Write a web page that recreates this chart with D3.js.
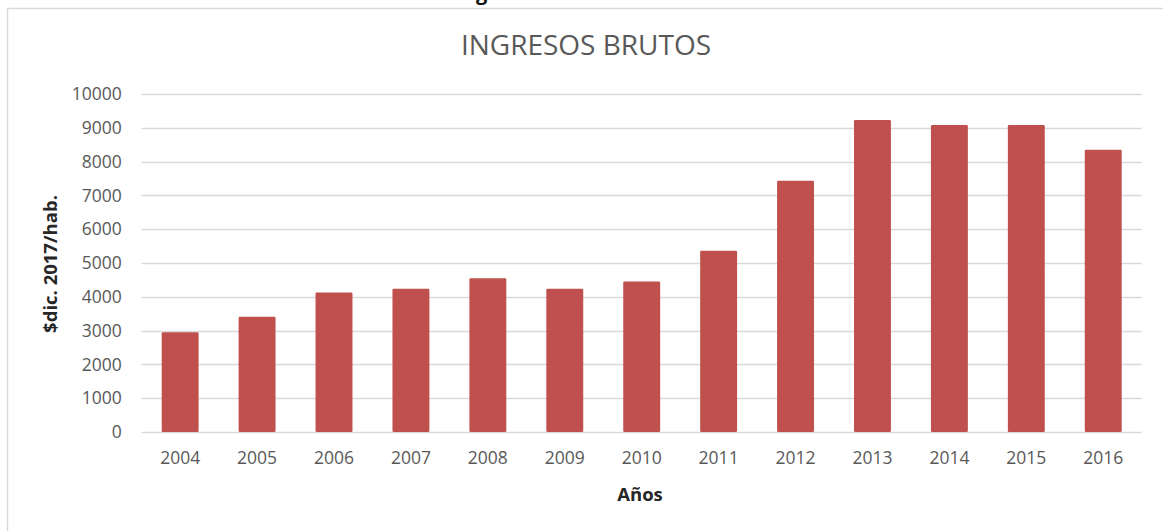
<!DOCTYPE html>
<html>
<head>
<meta charset="utf-8">
<script src="https://cdn.jsdelivr.net/npm/d3@7"></script>
<style>
  html, body { margin: 0; padding: 0; background: #fff; }
  svg { display: block; }
</style>
</head>
<body>
<svg id="chart" width="1163" height="531"></svg>
<script>
const years = ["2004","2005","2006","2007","2008","2009","2010","2011","2012","2013","2014","2015","2016"];
const ingresos = [2950, 3410, 4130, 4240, 4550, 4240, 4450, 5365, 7435, 9230, 9080, 9080, 8350];
const yTicks = [0,1000,2000,3000,4000,5000,6000,7000,8000,9000,10000];
const title = "INGRESOS BRUTOS";
const xTitle = "Años";
const yTitle = "$dic. 2017/hab.";

const svg = d3.select("#chart");
const font = "'Open Sans', 'DejaVu Sans', sans-serif";

// chart area border (left and top visible)
svg.append("path")
  .attr("d", "M7.5,531 L7.5,8.5 L1163,8.5")
  .attr("fill", "none").attr("stroke", "#d9d9d9").attr("stroke-width", 1.5);

// cut-off caption letter above chart (only its descender shows, as in the reference)
svg.append("text").attr("x", 476).attr("y", 0)
  .attr("font-family", font).attr("font-weight", "bold").attr("font-size", 20)
  .attr("fill", "#111").text("g");

const x = d3.scaleBand().domain(years).range([141.7, 1141.7]).paddingInner(0.52).paddingOuter(0.26);
const y = d3.scaleLinear().domain([0, 10000]).range([432, 94]);

// gridlines
svg.append("g").selectAll("line").data(yTicks).join("line")
  .attr("x1", 141.7).attr("x2", 1141.7)
  .attr("y1", d => Math.round(y(d)) + 0.5).attr("y2", d => Math.round(y(d)) + 0.5)
  .attr("stroke", "#d9d9d9").attr("stroke-width", 1.3);

// y axis labels
const yAxis = d3.axisLeft(y).tickValues(yTicks).tickSize(0).tickPadding(0).tickFormat(d3.format("d"));
const gy = svg.append("g").attr("transform", "translate(121.7,0)").call(yAxis);
gy.select(".domain").remove();
gy.selectAll("text").attr("font-family", font).attr("font-size", 17.5).attr("fill", "#595959");

// bars
svg.append("g").selectAll("rect").data(years).join("rect")
  .attr("x", d => x(d)).attr("width", x.bandwidth())
  .attr("y", (d, i) => y(ingresos[i])).attr("height", (d, i) => y(0) - y(ingresos[i]))
  .attr("rx", 1.2)
  .attr("fill", "#c0504d");

// x axis labels
const xAxis = d3.axisBottom(x).tickSize(0).tickPadding(0);
const gx = svg.append("g").attr("transform", "translate(0,452)").call(xAxis);
gx.select(".domain").remove();
gx.selectAll("text").attr("font-family", font).attr("font-size", 17.5).attr("fill", "#595959");

// title
svg.append("text").attr("x", 586).attr("y", 55).attr("text-anchor", "middle")
  .attr("font-family", font).attr("font-size", 28).attr("fill", "#595959").text(title);

// axis titles
svg.append("text").attr("x", 640).attr("y", 501).attr("text-anchor", "middle")
  .attr("font-family", font).attr("font-weight", "bold").attr("font-size", 18.5)
  .attr("fill", "#262626").text(xTitle);

svg.append("text").attr("transform", "translate(57,264) rotate(-90)").attr("text-anchor", "middle")
  .attr("font-family", font).attr("font-weight", "bold").attr("font-size", 18.5)
  .attr("fill", "#262626").text(yTitle);
</script>
</body>
</html>
